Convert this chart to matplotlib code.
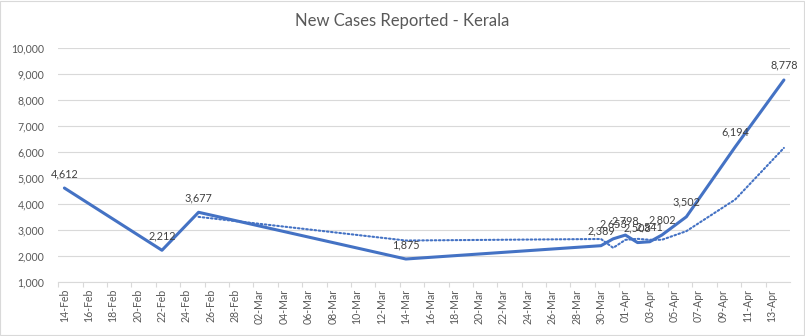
import matplotlib
matplotlib.use("Agg")
import matplotlib.pyplot as plt
import matplotlib.ticker as mticker
import pandas as pd
import numpy as np

# ---- data ----
dates = ["2021-02-14", "2021-02-22", "2021-02-25", "2021-03-14", "2021-03-30",
         "2021-03-31", "2021-04-01", "2021-04-02", "2021-04-03", "2021-04-04",
         "2021-04-06", "2021-04-10", "2021-04-14"]
cases = [4612, 2212, 3677, 1875, 2389, 2653, 2798, 2508, 2541, 2802, 3502, 6194, 8778]
axis_start = "2021-02-14"
axis_end = "2021-04-14"
tick_step_days = 2
ma_period = 3  # moving-average trendline period

plt.rcParams['font.family'] = ['Lato', 'DejaVu Sans']

start = pd.Timestamp(axis_start)
dts = pd.to_datetime(dates)
xd = np.array([(d - start).days for d in dts], dtype=float)
ndays = (pd.Timestamp(axis_end) - start).days
trend = pd.Series(cases).rolling(ma_period).mean()

fig = plt.figure(figsize=(8.05, 3.36), dpi=100)
ax = fig.add_axes([58.3 / 805, 1 - 281.7 / 336, (790 - 58.3) / 805, (281.7 - 48.3) / 336])

blue = "#4472C4"
grid = "#D9D9D9"
txt = "#595959"

ax.plot(xd, cases, color=blue, lw=2.2, solid_joinstyle='round', solid_capstyle='round', zorder=3)
ax.plot(xd[ma_period - 1:], trend[ma_period - 1:], color=blue, lw=1.5,
        linestyle=(0, (0.8, 1.2)), dash_capstyle='round', zorder=2)

for x, v in zip(xd, cases):
    ax.annotate(f"{v:,}", (x, v), xytext=(0, 10.5), textcoords="offset points",
                ha="center", va="center", fontsize=7.8, color="#404040", zorder=4)

ax.set_xlim(-0.5, ndays + 0.5)
ax.set_ylim(1000, 10000)
ax.yaxis.set_major_locator(mticker.MultipleLocator(1000))
ax.yaxis.set_major_formatter(mticker.FuncFormatter(lambda v, p: f"{int(v):,}"))
ax.grid(axis='y', color=grid, lw=0.8)
ax.set_axisbelow(True)

major = np.arange(0, ndays, tick_step_days)
labels = [(start + pd.Timedelta(days=int(d))).strftime("%d-%b") for d in major]
ax.set_xticks(major)
ax.set_xticklabels(labels, rotation=90, fontsize=7.6, color=txt)
ax.set_xticks(major - 0.5, minor=True)
ax.tick_params(axis='x', which='major', length=0, pad=5)
ax.tick_params(axis='x', which='minor', length=3.6, color=grid, width=0.8)
ax.tick_params(axis='y', length=0, pad=10, labelsize=7.6, labelcolor=txt)

for s in ['top', 'right', 'left']:
    ax.spines[s].set_visible(False)
ax.spines['bottom'].set_color(grid)
ax.spines['bottom'].set_linewidth(0.8)

fig.text(0.5, 1 - 21 / 336, "New Cases Reported - Kerala", ha="center", va="center",
         fontsize=12, color=txt)

fig.patches.append(plt.Rectangle((0.0006, 0.0015), 0.9985, 0.997, transform=fig.transFigure,
                                 fill=False, edgecolor=grid, lw=0.8))

fig.savefig("out.png", dpi=100, facecolor="white")
